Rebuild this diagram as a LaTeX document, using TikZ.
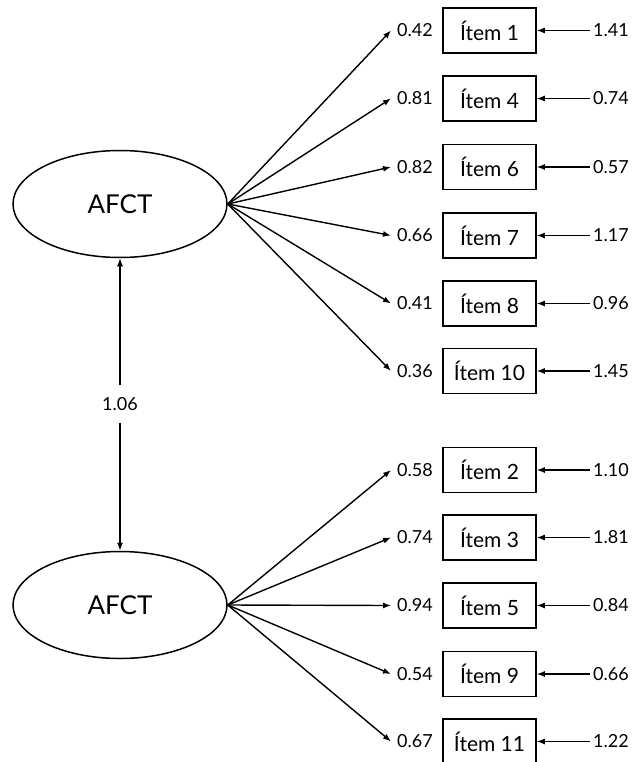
\documentclass[tikz,border=0pt]{standalone}
\usepackage{fontspec}
\setmainfont{Lato}
\usetikzlibrary{shapes.geometric,arrows.meta}
\begin{document}
\begin{tikzpicture}[x=1pt,y=-1pt,
  factor/.style={draw,line width=1.5pt,ellipse,minimum width=214pt,minimum height=107pt,inner sep=0pt,font=\fontsize{26}{28}\selectfont},
  itembox/.style={draw,line width=1.5pt,minimum width=93pt,minimum height=45pt,inner sep=0pt,font=\fontsize{21}{24}\selectfont},
  num/.style={inner xsep=6pt,inner ysep=2pt,font=\fontsize{18}{20}\selectfont},
  errnum/.style={inner xsep=3pt,inner ysep=2pt,font=\fontsize{18}{20}\selectfont},
  arr/.style={line width=1.4pt,-{Latex[length=8pt,width=6pt]}}]
\useasboundingbox (0,0) rectangle (632,762);
\node[factor] (f1) at (120,204) {AFCT};
\node[factor] (f2) at (120,605) {AFCT};
\node[font=\fontsize{18}{20}\selectfont,inner xsep=2pt,inner ysep=12pt] (cov) at (120,404) {1.06};
\draw[arr] (cov.north) -- (f1.south);
\draw[arr] (cov.south) -- (f2.north);
\foreach \name/\y/\lam/\err/\lab in {i1/30.5/0.42/1.41/1, i4/98.5/0.81/0.74/4, i6/167/0.82/0.57/6, i7/235.5/0.66/1.17/7, i8/303.5/0.41/0.96/8, i10/371/0.36/1.45/10}{
  \node[itembox] (\name) at (489.5,\y) {Ítem \lab};
  \node[num] (l\name) at (415,\y) {\lam};
  \node[errnum] (e\name) at (611,\y) {\err};
  \draw[arr] (f1.east) -- (l\name.west);
  \draw[arr] (e\name.west) -- (\name.east);
}
\foreach \name/\y/\lam/\err/\lab in {i2/470/0.58/1.10/2, i3/537.5/0.74/1.81/3, i5/605.5/0.94/0.84/5, i9/674/0.54/0.66/9, i11/741.5/0.67/1.22/11}{
  \node[itembox] (\name) at (489.5,\y) {Ítem \lab};
  \node[num] (l\name) at (415,\y) {\lam};
  \node[errnum] (e\name) at (611,\y) {\err};
  \draw[arr] (f2.east) -- (l\name.west);
  \draw[arr] (e\name.west) -- (\name.east);
}
\end{tikzpicture}
\end{document}
